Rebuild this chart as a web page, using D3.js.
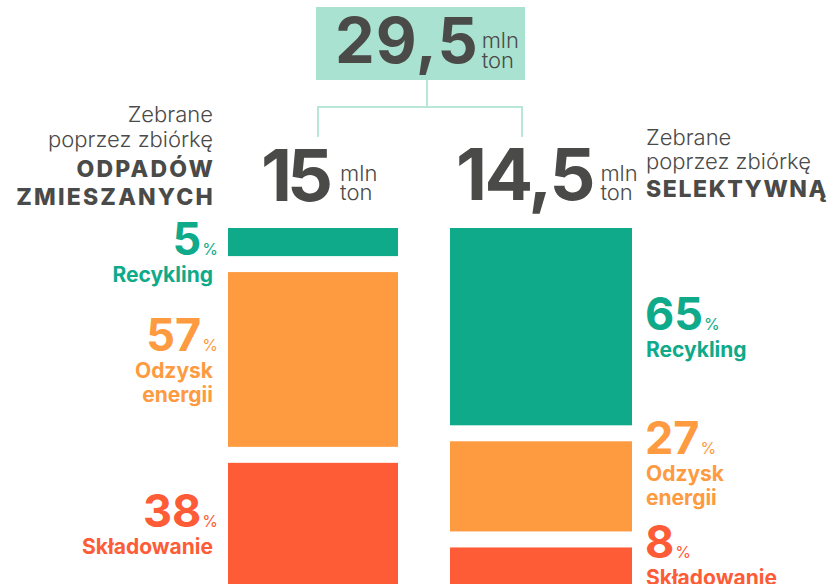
<!DOCTYPE html>
<html>
<head>
<meta charset="utf-8">
<script src="https://cdn.jsdelivr.net/npm/d3@7"></script>
<style>
  html, body { margin: 0; padding: 0; background: #ffffff; }
  svg { display: block; }
</style>
</head>
<body>
<div id="chart"></div>
<script>
// ---------- DATA ----------
const totalAll = "29,5";
const unitTop = "mln";
const unitBottom = "ton";
const groupTotals = ["15", "14,5"];
const groupIntro = ["Zebrane", "poprzez zbiórkę"];
const groupTitles = [["ODPADÓW", "ZMIESZANYCH"], ["SELEKTYWNĄ"]];
const categories = ["Recykling", "Odzysk energii", "Składowanie"];
const mixedPct = [5, 57, 38];
const selectivePct = [65, 27, 8];
const categoryColors = ["#0eaa8a", "#fe9a3f", "#fe5b37"];

// ---------- LAYOUT ----------
const W = 836, H = 584;
const FONT = "Inter, 'Open Sans', sans-serif";
const TEXT = "#4a4a48";
const MINT = "#a9e2d0";
const LINE = "#b8e7d8";
const barTop = 228, segGap = 16;
const bars = [
  { x: 228, w: 170, pct: mixedPct, side: "left" },
  { x: 450, w: 182, pct: selectivePct, side: "right" }
];

// height scale (percentage -> px, with a small minimum visual height)
const hScale = d3.scaleLinear().domain([0, 100]).range([14, 296]);

const svg = d3.select("#chart").append("svg")
  .attr("width", W).attr("height", H)
  .style("font-family", FONT);

// ---------- TOP TOTAL BOX ----------
svg.append("rect").attr("x", 316).attr("y", 7).attr("width", 209).attr("height", 73)
  .attr("fill", MINT);

function bigNumber(x, baseline, value, size, spacing, gap, unitSize, mlnDy, tonDy) {
  const t = svg.append("text").attr("x", x).attr("y", baseline)
    .attr("fill", TEXT).attr("font-size", size).attr("font-weight", 700)
    .attr("letter-spacing", spacing)
    .text(value);
  const w = t.node().getComputedTextLength() - spacing;
  const u = svg.append("text").attr("fill", TEXT).attr("font-size", unitSize)
    .attr("font-weight", 300);
  u.append("tspan").attr("x", x + w + gap).attr("y", baseline + mlnDy).text(unitTop);
  u.append("tspan").attr("x", x + w + gap).attr("y", baseline + tonDy).text(unitBottom);
}
bigNumber(335, 63, totalAll, 63, 1, 4, 22, -15, 5);

// connectors
const midX = (bars[0].x + bars[0].w / 2 + bars[1].x + bars[1].w / 2) / 2;
const conn = d3.path();
conn.moveTo(midX, 80); conn.lineTo(midX, 107);
conn.moveTo(318, 137); conn.lineTo(318, 107); conn.lineTo(522, 107); conn.lineTo(522, 137);
svg.append("path").attr("d", conn.toString()).attr("fill", "none")
  .attr("stroke", LINE).attr("stroke-width", 2);

// group totals
bigNumber(261, 201, groupTotals[0], 72, -5, 7, 22, -20, -1);
bigNumber(456, 200, groupTotals[1], 72, -2.5, 5, 22, -19, 0);

// group headers
const leftHead = svg.append("g").attr("text-anchor", "end");
[[groupIntro[0], 122], [groupIntro[1], 147]].forEach(([t, y]) =>
  leftHead.append("text").attr("x", 213).attr("y", y).attr("fill", TEXT)
    .attr("font-size", 22).attr("font-weight", 300).text(t));
groupTitles[0].forEach((t, i) =>
  leftHead.append("text").attr("x", 215).attr("y", 177 + i * 28).attr("fill", TEXT)
    .attr("font-size", 23).attr("font-weight", 800).attr("letter-spacing", 2.2).text(t));

const rightHead = svg.append("g").attr("text-anchor", "start");
[[groupIntro[0], 145], [groupIntro[1], 169]].forEach(([t, y]) =>
  rightHead.append("text").attr("x", 646).attr("y", y).attr("fill", TEXT)
    .attr("font-size", 22).attr("font-weight", 300).text(t));
groupTitles[1].forEach((t, i) =>
  rightHead.append("text").attr("x", 646).attr("y", 197 + i * 28).attr("fill", TEXT)
    .attr("font-size", 23).attr("font-weight", 800).attr("letter-spacing", 1.6).text(t));

// ---------- BARS + LABELS ----------
const NUM_CAP = 33, NUM_TO_LABEL = 27, LABEL_LINE = 24, BLOCK_PAD = 5;
const minTop = 222, maxBottom = 590, labelGap = 15;

bars.forEach(b => {
  let y = barTop;
  const segs = b.pct.map((p, i) => {
    const h = hScale(p);
    const s = { i, p, y0: y, h, cat: categories[i], color: categoryColors[i] };
    y += h + segGap;
    return s;
  });

  svg.append("g").selectAll("rect").data(segs).join("rect")
    .attr("x", b.x).attr("width", b.w)
    .attr("y", d => d.y0).attr("height", d => d.h)
    .attr("fill", d => d.color);

  // label blocks: centred on segment, clamped, then de-overlapped bottom-up
  const blocks = segs.map(s => {
    const lines = s.cat.split(" ");
    const bh = NUM_CAP + NUM_TO_LABEL + LABEL_LINE * (lines.length - 1) + BLOCK_PAD;
    let top = s.y0 + s.h / 2 - bh / 2 + 3;
    top = Math.max(minTop, Math.min(maxBottom - bh, top));
    return { s, lines, bh, top };
  });
  for (let i = blocks.length - 2; i >= 0; i--) {
    const lim = blocks[i + 1].top - labelGap;
    if (blocks[i].top + blocks[i].bh > lim) blocks[i].top = lim - blocks[i].bh;
  }
  blocks.forEach(bl => { bl.top = Math.max(minTop, bl.top); });

  const left = b.side === "left";
  const numX = left ? b.x - 10 : b.x + b.w + 13;
  const labX = left ? b.x - 15 : b.x + b.w + 14;
  const anchor = left ? "end" : "start";

  blocks.forEach(bl => {
    const nb = bl.top + NUM_CAP;
    const t = svg.append("text").attr("x", numX).attr("y", nb)
      .attr("text-anchor", anchor).attr("fill", bl.s.color);
    t.append("tspan").attr("font-size", 45).attr("font-weight", 700)
      .attr("letter-spacing", 0).text(bl.s.p);
    t.append("tspan").attr("dx", 1).attr("font-size", 16).attr("font-weight", 400).text("%");
    bl.lines.forEach((ln, k) => {
      svg.append("text").attr("x", labX).attr("y", nb + NUM_TO_LABEL + k * LABEL_LINE)
        .attr("text-anchor", anchor).attr("fill", bl.s.color)
        .attr("font-size", 21).attr("font-weight", 700).text(ln);
    });
  });
});
</script>
</body>
</html>
